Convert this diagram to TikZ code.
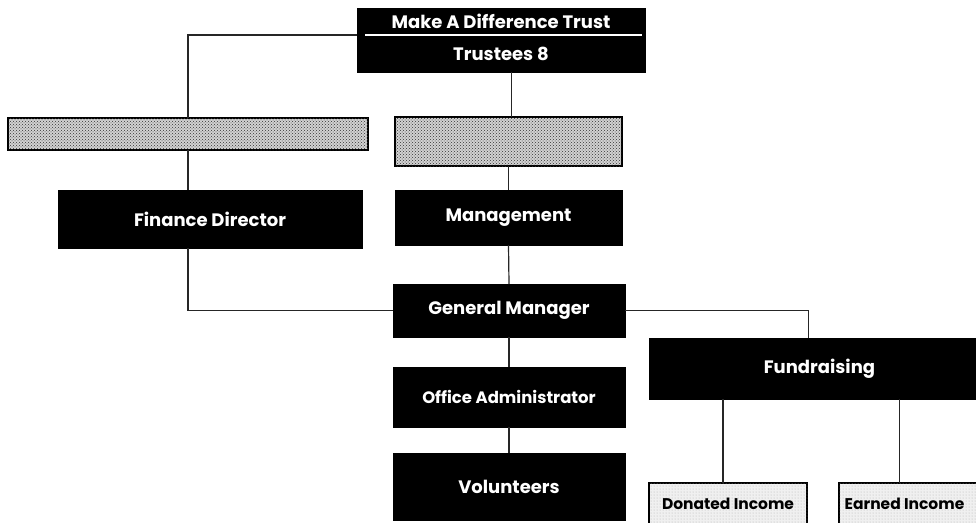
\documentclass[tikz,border=0pt]{standalone}
\usepackage{fontspec}
\setmainfont{Poppins}
\usetikzlibrary{patterns}
\tikzset{
  darkbox/.style={draw=black, fill=black, text=white, font=\bfseries\fontsize{18}{20}\selectfont,
    inner sep=0pt, outer sep=0pt, anchor=center},
  hatchbox/.style={draw=black, line width=2pt, fill=gray!35, inner sep=0pt, outer sep=0pt,
    postaction={pattern=crosshatch dots, pattern color=black!80}},
  lightbox/.style={draw=black, line width=1.8pt, fill=gray!12, inner sep=0pt, outer sep=0pt,
    text=black, font=\bfseries\fontsize{15.5}{17}\selectfont,
    postaction={pattern=dots, pattern color=gray!60}},
  link/.style={draw=black!85, line width=1.2pt}
}
\begin{document}
\begin{tikzpicture}[x=1pt,y=-1pt]
\useasboundingbox (0,0) rectangle (976,522);
\clip (0,0) rectangle (976,522);
\fill[white] (0,0) rectangle (976,522);
% nodes
\node[darkbox, minimum width=288pt, minimum height=27pt] (trustA) at (501,21.5) {Make A Difference Trust};
\node[darkbox, minimum width=288pt, minimum height=37pt] (trustB) at (501,53.5) {Trustees 8};
\draw[white, line width=1.5pt] ([xshift=8pt]trustA.south west) -- ([xshift=-3pt]trustA.south east);
\node[hatchbox, minimum width=360pt, minimum height=32pt] (grants) at (188,134) {};
\node[hatchbox, minimum width=227pt, minimum height=49pt] (gov) at (508.5,141.5) {};
\node[darkbox, minimum width=304pt, minimum height=58pt] (fd) at (210,219) {Finance Director};
\node[darkbox, minimum width=227pt, minimum height=55pt] (mgmt) at (508.5,217.5) {Management};
\node[darkbox, minimum width=232pt, minimum height=53pt] (gm) at (509,310.5) {General Manager};
\node[darkbox, minimum width=232pt, minimum height=60pt, font=\bfseries\fontsize{16.5}{18}\selectfont] (office) at (509,397) {Office Administrator};
\node[darkbox, minimum width=232pt, minimum height=67pt] (vol) at (509,486.5) {Volunteers};
\node[darkbox, minimum width=341pt, minimum height=61pt] (fund) at (819.5,368.5) {Fundraising};
\node[lightbox, minimum width=158pt, minimum height=47pt] (don) at (728,506.5) {\raisebox{6pt}{Donated Income}};
\node[lightbox, minimum width=161pt, minimum height=47pt] (earn) at (919.5,506.5) {\raisebox{6pt}{Earned Income}\hspace*{30pt}};
% connectors
\draw[link] (trustA.south west) -| (grants.north);
\draw[link] (grants.south) -- (grants.south |- fd.north);
\draw[link] (grants.south |- fd.south) |- (gm.west);
\draw[link] ([xshift=3pt]gov.north) -- ([xshift=3pt]gov.north |- trustB.south);
\draw[link] (gov.south) -- (mgmt.north);
\draw[link] (mgmt.south) -- (gm.north);
\draw[link] (gm.south) -- (office.north);
\draw[link] (office.south) -- (vol.north);
\draw[link] (gm.east) -| ([xshift=-11pt]fund.north);
\draw[link] ([xshift=-5pt]don.north) -- ([xshift=-5pt]don.north |- fund.south);
\draw[link] ([xshift=-20pt]earn.north) -- ([xshift=-20pt]earn.north |- fund.south);
\end{tikzpicture}
\end{document}
